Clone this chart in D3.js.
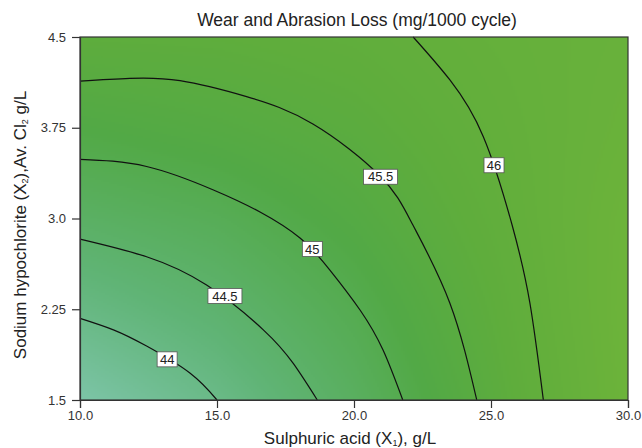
<!DOCTYPE html>
<html>
<head>
<meta charset="utf-8">
<script src="https://cdn.jsdelivr.net/npm/d3@7/dist/d3.min.js"></script>
<style>
  html, body { margin: 0; padding: 0; background: #ffffff; }
  svg { display: block; font-family: "Liberation Sans", Arial, sans-serif; }
</style>
</head>
<body>
<svg id="chart" width="642" height="448"></svg>
<script>
// ---- Data ----
const xTicks = [10, 15, 20, 25, 30];
const xTickLabels = ["10.0", "15.0", "20.0", "25.0", "30.0"];
const yTicks = [1.5, 2.25, 3.0, 3.75, 4.5];
const yTickLabels = ["1.5", "2.25", "3.0", "3.75", "4.5"];

// estimated response surface values at the tick grid (rows = yTicks, cols = xTicks)
const surfaceRows = [
  [43.45, 44.00, 44.71, 45.61, 46.60],
  [44.06, 44.44, 44.99, 45.75, 46.65],
  [44.63, 44.88, 45.31, 45.90, 46.60],
  [45.20, 45.38, 45.62, 46.03, 46.45],
  [45.75, 45.78, 45.90, 46.15, 46.35]
];

const contourLevels = [44, 44.5, 45, 45.5, 46];
const contour44 = [[10, 2.175], [11.22, 2.08], [12.43, 1.946], [14.01, 1.723], [15.0, 1.5]];
const contour445 = [[10, 2.83], [12.43, 2.684], [14.62, 2.45], [16.69, 2.08], [17.79, 1.80], [18.66, 1.5]];
const contour45 = [[10, 3.489], [12.43, 3.43], [14.87, 3.236], [16.57, 3.054], [18.03, 2.839], [19.12, 2.574], [20.22, 2.244], [21.06, 1.913], [21.78, 1.5]];
const contour455 = [[10, 4.136], [11.82, 4.158], [13.65, 4.139], [16.08, 4.007], [18.50, 3.781], [20.95, 3.351], [22.15, 2.946], [23.5, 2.30], [24.48, 1.5]];
const contour46 = [[22.16, 4.5], [23.5, 4.145], [24.72, 3.676], [25.77, 2.946], [26.42, 2.30], [26.91, 1.5]];
const contourLines = [contour44, contour445, contour45, contour455, contour46];
const labelText = ["44", "44.5", "45", "45.5", "46"];
const labelPos = [[13.18, 1.836], [15.29, 2.36], [18.48, 2.748], [20.97, 3.345], [25.11, 3.44]];

const colorStops = [43.4, 44.3, 45.2, 45.8, 46.6];
const colorRange = ["#7ec5aa", "#60b476", "#52a946", "#5fad3c", "#6cb33a"];

// ---- Layout ----
const svg = d3.select("#chart");
const margin = { left: 80, right: 14, top: 37, bottom: 48 };
const W = 642, H = 448;
const x = d3.scaleLinear().domain([10, 30]).range([margin.left, W - margin.right]);
const y = d3.scaleLinear().domain([1.5, 4.5]).range([H - margin.bottom, margin.top]);
const color = d3.scaleLinear().domain(colorStops).range(colorRange).interpolate(d3.interpolateRgb);

// ---- Background surface (bilinear shading of the value grid) ----
const pw = Math.round(x(30) - x(10)), ph = Math.round(y(1.5) - y(4.5));
const cw = 274, ch = 182;
const canvas = document.createElement("canvas");
canvas.width = cw; canvas.height = ch;
const ctx = canvas.getContext("2d");
const img = ctx.createImageData(cw, ch);
const gx = d3.scaleLinear().domain([0, cw - 1]).range([0, xTicks.length - 1]);
const gy = d3.scaleLinear().domain([0, ch - 1]).range([yTicks.length - 1, 0]);
for (let j = 0; j < ch; j++) {
  for (let i = 0; i < cw; i++) {
    const fx = gx(i), fy = gy(j);
    const i0 = Math.min(Math.floor(fx), xTicks.length - 2), j0 = Math.min(Math.floor(fy), yTicks.length - 2);
    const tx = fx - i0, ty = fy - j0;
    const v = (1 - tx) * (1 - ty) * surfaceRows[j0][i0] + tx * (1 - ty) * surfaceRows[j0][i0 + 1]
            + (1 - tx) * ty * surfaceRows[j0 + 1][i0] + tx * ty * surfaceRows[j0 + 1][i0 + 1];
    const c = d3.rgb(color(v));
    const k = (j * cw + i) * 4;
    img.data[k] = c.r; img.data[k + 1] = c.g; img.data[k + 2] = c.b; img.data[k + 3] = 255;
  }
}
ctx.putImageData(img, 0, 0);
svg.append("image")
  .attr("x", x(10)).attr("y", y(4.5))
  .attr("width", pw).attr("height", ph)
  .attr("preserveAspectRatio", "none")
  .attr("href", canvas.toDataURL());

// ---- Contour lines ----
const line = d3.line().x(d => x(d[0])).y(d => y(d[1])).curve(d3.curveNatural);
svg.append("g").selectAll("path").data(contourLines).join("path")
  .attr("d", line)
  .attr("fill", "none")
  .attr("stroke", "#111")
  .attr("stroke-width", 1.2);

// ---- Contour labels ----
const lab = svg.append("g").selectAll("g").data(labelText).join("g")
  .attr("transform", (d, i) => `translate(${x(labelPos[i][0])},${y(labelPos[i][1])})`);
lab.append("rect")
  .attr("x", d => -(d.length * 7 + 6) / 2)
  .attr("y", -7.5)
  .attr("width", d => d.length * 7 + 6)
  .attr("height", 15)
  .attr("fill", "#fff")
  .attr("stroke", "#555")
  .attr("stroke-width", 0.8);
lab.append("text")
  .attr("text-anchor", "middle")
  .attr("dy", "0.36em")
  .attr("font-size", 13)
  .attr("fill", "#222")
  .text(d => d);

// ---- Frame ----
svg.append("rect")
  .attr("x", x(10)).attr("y", y(4.5))
  .attr("width", pw).attr("height", ph)
  .attr("fill", "none").attr("stroke", "#333").attr("stroke-width", 1.2);

// ---- Axes ----
const xAxis = d3.axisBottom(x).tickValues(xTicks).tickFormat((d, i) => xTickLabels[i]).tickSize(8).tickPadding(3);
const gxA = svg.append("g").attr("transform", `translate(0,${y(1.5)})`).call(xAxis);
const yAxis = d3.axisLeft(y).tickValues(yTicks).tickFormat((d, i) => yTickLabels[i]).tickSize(8).tickPadding(6);
const gyA = svg.append("g").attr("transform", `translate(${x(10)},0)`).call(yAxis);
[gxA, gyA].forEach(g => {
  g.select(".domain").attr("stroke", "#333").attr("stroke-width", 1.2);
  g.selectAll(".tick line").attr("stroke", "#333").attr("stroke-width", 1.2);
  g.selectAll(".tick text").attr("font-size", 13).attr("fill", "#333")
    .attr("font-family", "'Liberation Sans', Arial, sans-serif");
});

// ---- Titles ----
svg.append("text")
  .attr("x", 357).attr("y", 26)
  .attr("text-anchor", "middle")
  .attr("font-size", 17.5)
  .attr("fill", "#222")
  .text("Wear and Abrasion Loss (mg/1000 cycle)");

const xt = svg.append("text")
  .attr("x", 350).attr("y", 444)
  .attr("text-anchor", "middle")
  .attr("font-size", 17)
  .attr("fill", "#222");
xt.append("tspan").text("Sulphuric acid (X");
xt.append("tspan").attr("font-size", 9).attr("baseline-shift", "-20%").text("1");
xt.append("tspan").text("), g/L");

const yt = svg.append("text")
  .attr("transform", "translate(26,225) rotate(-90)")
  .attr("text-anchor", "middle")
  .attr("font-size", 17)
  .attr("fill", "#222");
yt.append("tspan").text("Sodium hypochlorite (X");
yt.append("tspan").attr("font-size", 9).attr("baseline-shift", "-20%").text("2");
yt.append("tspan").text("),Av. Cl");
yt.append("tspan").attr("font-size", 9).attr("baseline-shift", "-20%").text("2");
yt.append("tspan").text(" g/L");
</script>
</body>
</html>
